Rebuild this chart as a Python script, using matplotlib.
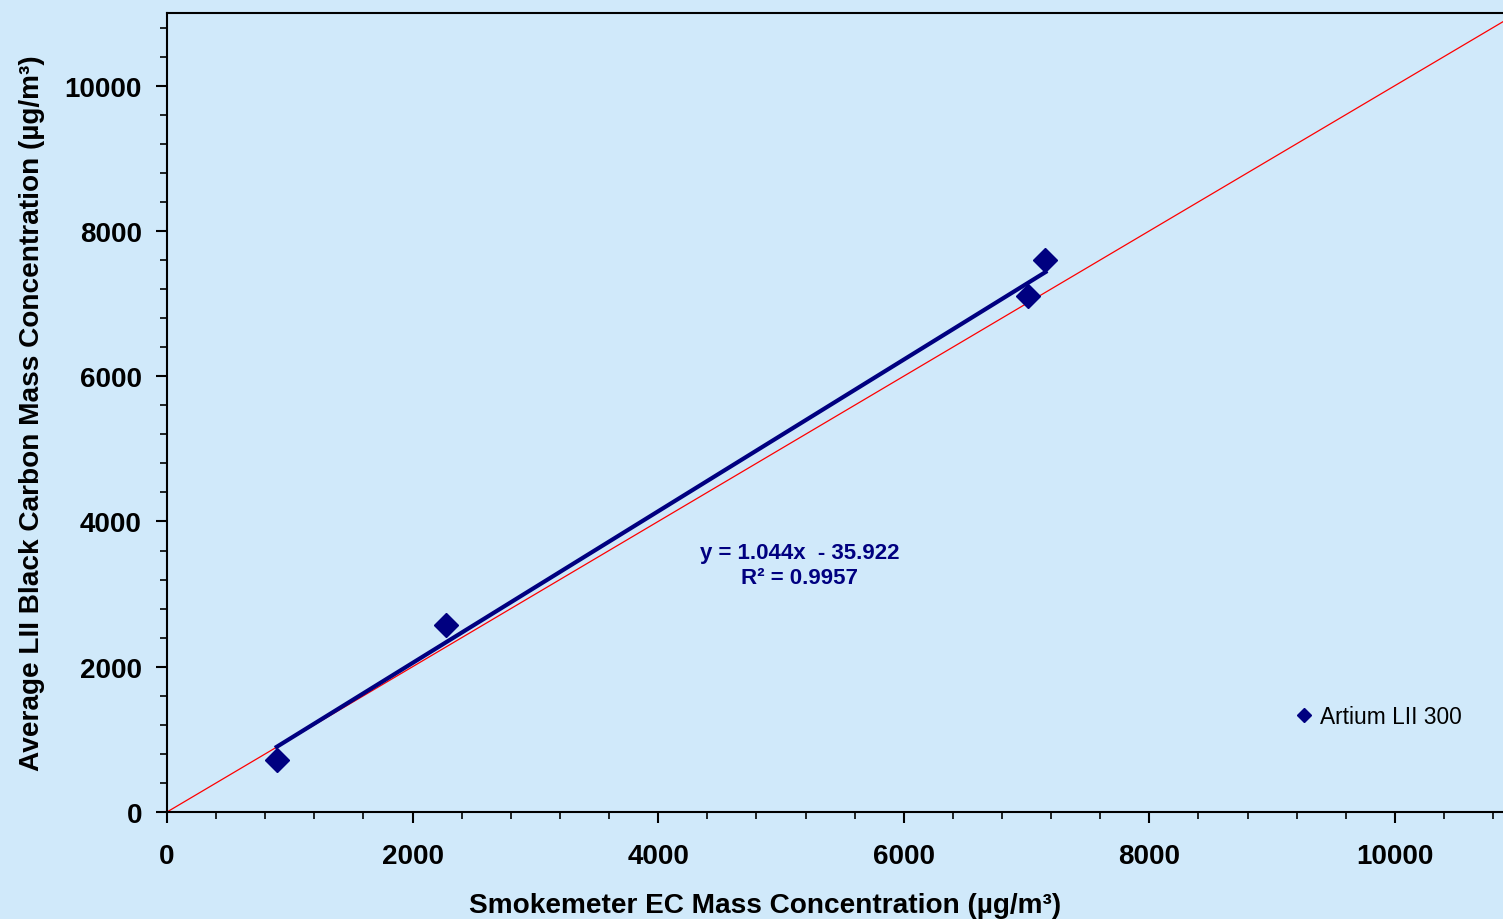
import matplotlib.pyplot as plt
import numpy as np
from matplotlib.ticker import MultipleLocator

# Smokemeter EC vs Artium LII 300 (ug/m3)
smokemeter_ec = [894, 2276, 7008, 7154]
lii_bc = [717, 2579, 7103, 7600]
slope = 1.044
intercept = -35.922
r2 = 0.9957

bg = "#D0E9FA"
navy = "#000080"

plt.rcParams["font.family"] = ["Liberation Sans", "DejaVu Sans"]

fig = plt.figure(figsize=(15.03, 9.2), dpi=100, facecolor=bg)
ax = fig.add_axes([0.1111, 0.1163, 0.8889, 0.8685])
ax.set_facecolor(bg)

# 1:1 line
ax.plot([0, 11000], [0, 11000], color="red", lw=0.9, zorder=2)

# linear fit line over the data range
xs = np.array([min(smokemeter_ec), max(smokemeter_ec)])
ax.plot(xs, slope * xs + intercept, color=navy, lw=3, zorder=3)

ax.plot(smokemeter_ec, lii_bc, "D", color=navy, ms=12, ls="none",
        label="Artium LII 300", zorder=4)

ax.text(5155, 3400, f"y = {slope}x  - {abs(intercept)}\nR² = {r2}",
        color=navy, fontsize=16, fontweight="bold", ha="center", va="center",
        linespacing=1.2)

leg = ax.legend(loc="center left", bbox_to_anchor=(0.827, 0.119), frameon=False,
                fontsize=16.4, handlelength=1.0, handletextpad=0.2, markerscale=0.6)

ax.set_xlim(0, 10880)
ax.set_ylim(0, 11000)
ax.xaxis.set_major_locator(MultipleLocator(2000))
ax.xaxis.set_minor_locator(MultipleLocator(400))
ax.yaxis.set_major_locator(MultipleLocator(2000))
ax.yaxis.set_minor_locator(MultipleLocator(400))
ax.tick_params(which="major", length=8, width=1.5, labelsize=20)
ax.tick_params(axis="x", which="major", pad=14)
ax.tick_params(axis="y", which="major", pad=10)
ax.tick_params(which="minor", length=5, width=1.2)
for lbl in ax.get_xticklabels() + ax.get_yticklabels():
    lbl.set_fontweight("bold")

ax.spines["right"].set_visible(False)
for s in ["left", "bottom", "top"]:
    ax.spines[s].set_linewidth(1.5)

ax.set_xlabel("Smokemeter EC Mass Concentration (µg/m³)", fontsize=20.2,
              fontweight="bold", labelpad=18)
ax.xaxis.set_label_coords(0.448, -0.0995, transform=ax.transAxes)
ax.set_ylabel("Average LII Black Carbon Mass Concentration (µg/m³)", fontsize=20.2,
              fontweight="bold", labelpad=14)

fig.savefig("out.png", dpi=100, facecolor=bg)
